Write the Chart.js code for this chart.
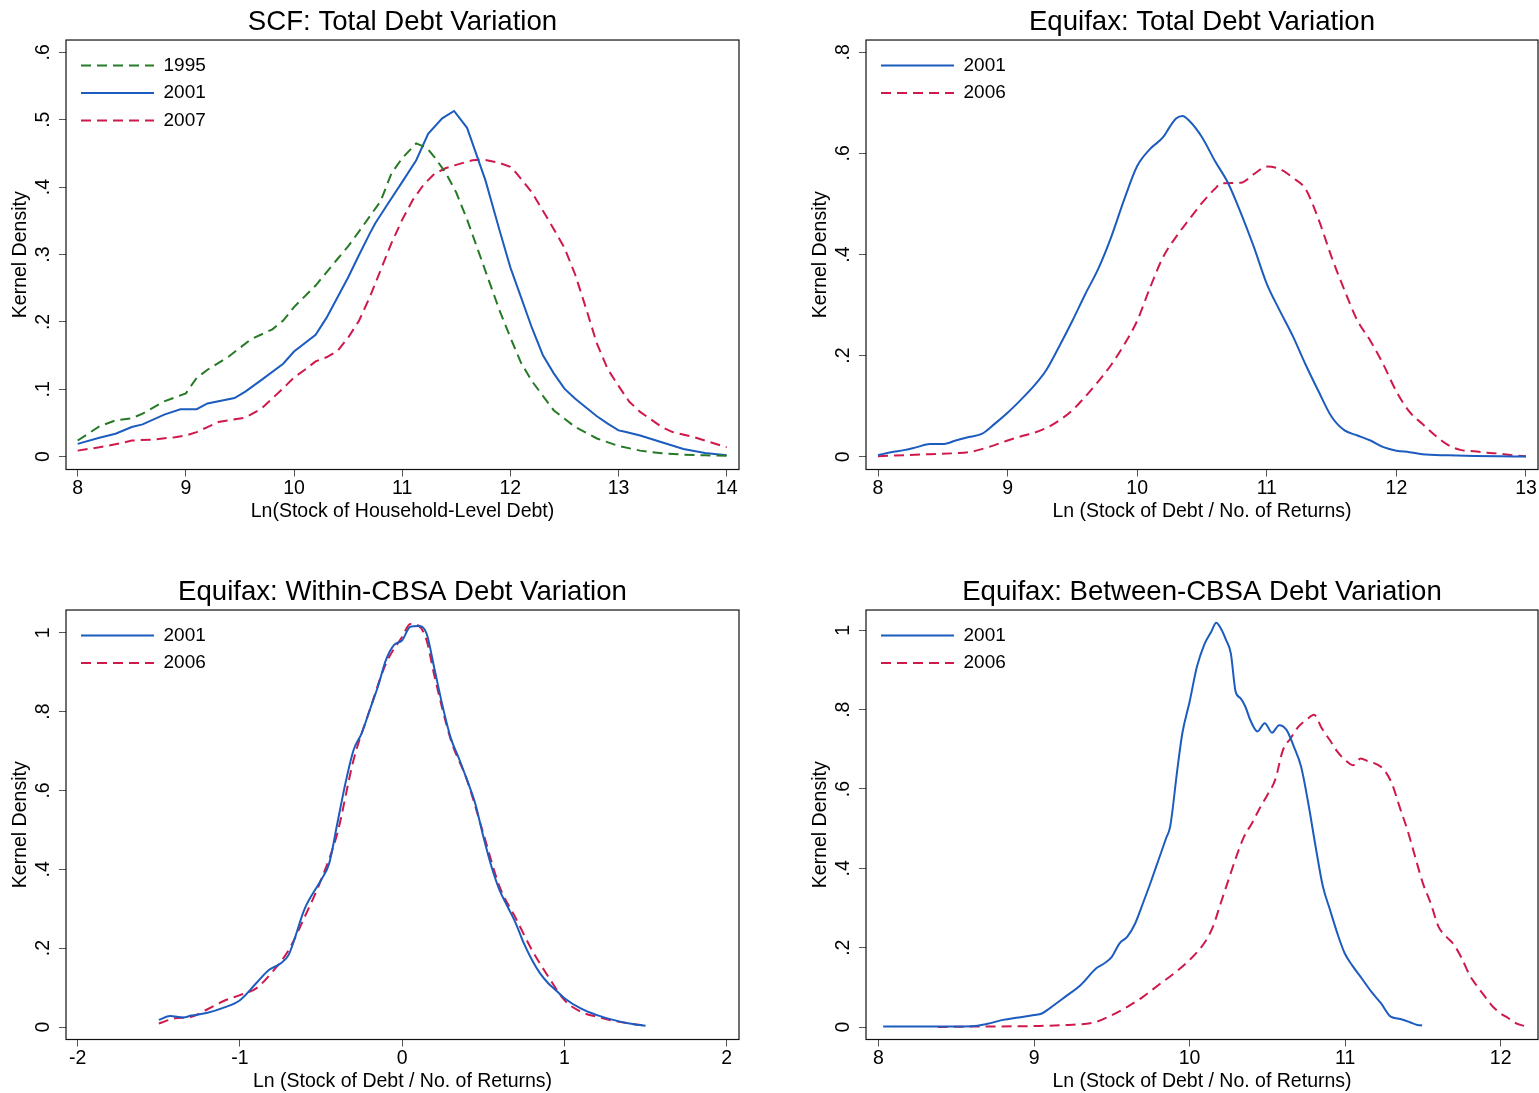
<!DOCTYPE html>
<html>
<head>
<meta charset="utf-8">
<title>Debt Variation</title>
<script src="https://cdn.jsdelivr.net/npm/chart.js@4.4.1/dist/chart.umd.min.js"></script>
<style>
    html, body { margin: 0; padding: 0; background: #fff; overflow: hidden; }
    canvas { position: absolute; }
</style>
</head>
<body>
<canvas id="scf" width="770" height="540" style="left:0;top:0"></canvas>
<canvas id="eqTotal" width="739" height="540" style="left:800px;top:0"></canvas>
<canvas id="eqWithin" width="770" height="540" style="left:0;top:570px"></canvas>
<canvas id="eqBetween" width="739" height="540" style="left:800px;top:570px"></canvas>
<script>
// SCF panel
let scfX1995 = [8, 8.2, 8.35, 8.5, 8.6, 8.8, 9.0, 9.1, 9.2, 9.4, 9.6, 9.8, 9.9, 10.0, 10.2, 10.4, 10.5, 10.6, 10.8, 10.9, 11.0, 11.13, 11.23, 11.3, 11.4, 11.5, 11.6, 11.7, 11.8, 11.9, 12.0, 12.1, 12.2, 12.4, 12.6, 12.8, 13.0, 13.2, 13.4, 13.6, 13.8, 14.0];
let scfY1995 = [0.024, 0.045, 0.054, 0.057, 0.064, 0.082, 0.094, 0.117, 0.129, 0.149, 0.174, 0.189, 0.202, 0.222, 0.254, 0.293, 0.312, 0.334, 0.379, 0.42, 0.443, 0.465, 0.458, 0.444, 0.422, 0.392, 0.352, 0.307, 0.262, 0.217, 0.177, 0.139, 0.112, 0.069, 0.044, 0.027, 0.016, 0.009, 0.005, 0.003, 0.002, 0.0015];
let scfX2001 = [8, 8.2, 8.35, 8.5, 8.6, 8.8, 8.95, 9.1, 9.2, 9.45, 9.55, 9.7, 9.9, 10.0, 10.2, 10.3, 10.4, 10.5, 10.6, 10.7, 10.75, 10.85, 11.01, 11.13, 11.24, 11.37, 11.48, 11.6, 11.77, 11.9, 12.0, 12.1, 12.2, 12.3, 12.4, 12.5, 12.6, 12.7, 12.8, 12.9, 13.0, 13.05, 13.2, 13.4, 13.6, 13.8, 14.0];
let scfY2001 = [0.019, 0.028, 0.034, 0.044, 0.048, 0.0625, 0.0705, 0.0705, 0.079, 0.087, 0.0965, 0.114, 0.138, 0.156, 0.181, 0.206, 0.236, 0.266, 0.299, 0.331, 0.346, 0.371, 0.41, 0.44, 0.479, 0.502, 0.513, 0.488, 0.41, 0.336, 0.281, 0.236, 0.191, 0.151, 0.124, 0.101, 0.086, 0.073, 0.06, 0.049, 0.039, 0.0375, 0.0315, 0.0215, 0.0115, 0.0055, 0.002];
let scfX2007 = [8, 8.2, 8.4, 8.5, 8.7, 8.9, 9.0, 9.1, 9.2, 9.3, 9.4, 9.55, 9.7, 9.8, 9.9, 10.0, 10.1, 10.2, 10.3, 10.4, 10.5, 10.6, 10.7, 10.8, 10.9, 11.0, 11.1, 11.2, 11.3, 11.4, 11.5, 11.65, 11.75, 11.9, 12.0, 12.05, 12.2, 12.35, 12.5, 12.6, 12.7, 12.8, 12.9, 13.0, 13.1, 13.2, 13.4, 13.5, 13.7, 13.8, 14.0];
let scfY2007 = [0.009, 0.014, 0.02, 0.024, 0.0255, 0.029, 0.0315, 0.0365, 0.044, 0.0515, 0.054, 0.058, 0.0715, 0.0865, 0.1015, 0.1175, 0.129, 0.1415, 0.1475, 0.1565, 0.1765, 0.2015, 0.2365, 0.2765, 0.3165, 0.3515, 0.3815, 0.404, 0.42, 0.428, 0.433, 0.44, 0.441, 0.436, 0.43, 0.422, 0.392, 0.352, 0.31, 0.27, 0.22, 0.168, 0.13, 0.105, 0.0815, 0.0665, 0.044, 0.0365, 0.029, 0.024, 0.014];

// Equifax total
let totX2001 = [8.0, 8.1, 8.2, 8.3, 8.4, 8.5, 8.6, 8.7, 8.8, 8.9, 9.0, 9.1, 9.2, 9.3, 9.4, 9.5, 9.6, 9.7, 9.8, 9.9, 10.0, 10.1, 10.2, 10.25, 10.3, 10.35, 10.4, 10.5, 10.6, 10.7, 10.8, 10.9, 11.0, 11.1, 11.2, 11.3, 11.4, 11.5, 11.6, 11.7, 11.8, 11.9, 12.0, 12.1, 12.2, 12.4, 12.6, 12.8, 13.0];
let totY2001 = [0.003, 0.009, 0.013, 0.019, 0.025, 0.025, 0.032, 0.039, 0.045, 0.065, 0.087, 0.112, 0.139, 0.172, 0.219, 0.269, 0.322, 0.372, 0.435, 0.509, 0.575, 0.609, 0.632, 0.652, 0.669, 0.674, 0.665, 0.632, 0.585, 0.542, 0.482, 0.415, 0.342, 0.289, 0.239, 0.182, 0.129, 0.079, 0.052, 0.042, 0.032, 0.019, 0.012, 0.009, 0.005, 0.0027, 0.0013, 0.0007, 0.0005];
let totX2006 = [8.0, 8.2, 8.4, 8.6, 8.7, 8.8, 8.9, 9.0, 9.1, 9.2, 9.3, 9.4, 9.5, 9.6, 9.7, 9.8, 9.9, 10.0, 10.1, 10.2, 10.3, 10.4, 10.5, 10.6, 10.65, 10.8, 10.9, 11.0, 11.1, 11.2, 11.3, 11.4, 11.5, 11.6, 11.7, 11.8, 11.9, 12.0, 12.1, 12.2, 12.3, 12.4, 12.5, 12.6, 12.7, 12.8, 12.9, 13.0];
let totY2006 = [0.001, 0.003, 0.005, 0.007, 0.009, 0.015, 0.023, 0.032, 0.04, 0.047, 0.057, 0.072, 0.092, 0.119, 0.149, 0.182, 0.222, 0.269, 0.335, 0.395, 0.435, 0.469, 0.502, 0.530, 0.541, 0.542, 0.559, 0.574, 0.569, 0.552, 0.529, 0.469, 0.395, 0.329, 0.269, 0.229, 0.182, 0.129, 0.089, 0.065, 0.042, 0.023, 0.013, 0.011, 0.008, 0.006, 0.003, 0.001];

// Equifax within-CBSA
let winX2001 = [-1.5, -1.43, -1.35, -1.3, -1.2, -1.1, -1.0, -0.9, -0.82, -0.75, -0.7, -0.6, -0.5, -0.45, -0.4, -0.35, -0.3, -0.25, -0.2, -0.15, -0.1, -0.05, 0, 0.05, 0.1, 0.15, 0.2, 0.25, 0.3, 0.35, 0.4, 0.45, 0.5, 0.55, 0.6, 0.65, 0.7, 0.75, 0.8, 0.85, 0.9, 0.95, 1.0, 1.1, 1.2, 1.3, 1.4, 1.5];
let winY2001 = [0.018, 0.028, 0.024, 0.029, 0.036, 0.049, 0.068, 0.111, 0.145, 0.161, 0.183, 0.301, 0.373, 0.415, 0.516, 0.618, 0.702, 0.745, 0.804, 0.863, 0.931, 0.969, 0.981, 1.015, 1.017, 0.998, 0.906, 0.812, 0.732, 0.681, 0.626, 0.567, 0.483, 0.407, 0.347, 0.305, 0.263, 0.212, 0.170, 0.136, 0.111, 0.092, 0.073, 0.047, 0.030, 0.018, 0.009, 0.003];
let winX2006 = [-1.5, -1.4, -1.3, -1.2, -1.1, -1.0, -0.9, -0.8, -0.7, -0.6, -0.5, -0.4, -0.3, -0.2, -0.1, 0, 0.05, 0.1, 0.15, 0.2, 0.3, 0.4, 0.5, 0.6, 0.7, 0.8, 0.9, 1.0, 1.1, 1.2, 1.3, 1.4, 1.5];
let winY2006 = [0.009, 0.022, 0.026, 0.045, 0.066, 0.081, 0.098, 0.140, 0.195, 0.280, 0.373, 0.491, 0.677, 0.804, 0.922, 0.99, 1.022, 1.018, 0.981, 0.888, 0.728, 0.626, 0.491, 0.356, 0.276, 0.195, 0.128, 0.068, 0.039, 0.026, 0.016, 0.009, 0.003];

// Equifax between-CBSA
let betX2001 = [8.03, 8.3, 8.6, 8.7, 8.8, 8.9, 9.0, 9.05, 9.1, 9.2, 9.3, 9.4, 9.45, 9.5, 9.55, 9.6, 9.65, 9.7, 9.75, 9.8, 9.85, 9.875, 9.922, 9.953, 10.0, 10.047, 10.093, 10.14, 10.171, 10.2, 10.234, 10.265, 10.296, 10.327, 10.358, 10.39, 10.436, 10.483, 10.53, 10.576, 10.623, 10.67, 10.717, 10.763, 10.81, 10.857, 10.903, 10.95, 10.997, 11.044, 11.106, 11.168, 11.23, 11.293, 11.355, 11.417, 11.464, 11.495];
let betY2001 = [0.001, 0.001, 0.002, 0.008, 0.018, 0.024, 0.030, 0.034, 0.047, 0.076, 0.106, 0.148, 0.160, 0.177, 0.211, 0.228, 0.261, 0.312, 0.365, 0.421, 0.477, 0.505, 0.652, 0.74, 0.82, 0.908, 0.963, 0.997, 1.019, 1.005, 0.976, 0.942, 0.845, 0.829, 0.808, 0.774, 0.745, 0.766, 0.742, 0.761, 0.749, 0.707, 0.656, 0.564, 0.455, 0.354, 0.295, 0.236, 0.186, 0.156, 0.123, 0.089, 0.060, 0.026, 0.020, 0.012, 0.005, 0.004];
let betX2006 = [8.38, 8.6, 9.0, 9.2, 9.4, 9.5, 9.6, 9.7, 9.8, 9.9, 10.0, 10.1, 10.15, 10.2, 10.25, 10.3, 10.35, 10.4, 10.45, 10.5, 10.55, 10.6, 10.65, 10.7, 10.75, 10.8, 10.85, 10.9, 10.95, 11.0, 11.05, 11.1, 11.15, 11.2, 11.25, 11.3, 11.35, 11.4, 11.45, 11.5, 11.55, 11.6, 11.65, 11.7, 11.75, 11.8, 11.85, 11.9, 11.95, 12.0, 12.05, 12.1, 12.15];
let betY2006 = [0, 0.001, 0.0025, 0.005, 0.013, 0.030, 0.051, 0.076, 0.106, 0.135, 0.169, 0.215, 0.253, 0.312, 0.371, 0.429, 0.480, 0.513, 0.551, 0.585, 0.623, 0.698, 0.728, 0.757, 0.774, 0.787, 0.753, 0.724, 0.694, 0.673, 0.66, 0.677, 0.669, 0.663, 0.648, 0.614, 0.555, 0.497, 0.429, 0.362, 0.312, 0.253, 0.228, 0.207, 0.173, 0.131, 0.102, 0.076, 0.051, 0.034, 0.022, 0.009, 0.003];

// tick values
let scfXTicks = [8, 9, 10, 11, 12, 13, 14];
let scfYTicks = [0, 0.1, 0.2, 0.3, 0.4, 0.5, 0.6];
let totXTicks = [8, 9, 10, 11, 12, 13];
let totYTicks = [0, 0.2, 0.4, 0.6, 0.8];
let winXTicks = [-2, -1, 0, 1, 2];
let winYTicks = [0, 0.2, 0.4, 0.6, 0.8, 1];
let betXTicks = [8, 9, 10, 11, 12];
let betYTicks = [0, 0.2, 0.4, 0.6, 0.8, 1];

const GREEN = '#267a26';
const BLUE = '#1c5cbf';
const RED = '#d0194b';
const DASH = [10, 6];

Chart.defaults.font.family = "'Liberation Sans', Arial, Helvetica, sans-serif";
Chart.defaults.color = '#000';

function pts(xs, ys) {
    return xs.map((x, i) => ({ x: x, y: ys[i] }));
}

// Stata style labels: .2 instead of 0.2
function tickLabel(v) {
    if (v === 0) return '0';
    let s = String(Math.round(v * 100) / 100);
    return s.replace(/^0\./, '.').replace(/^-0\./, '-.');
}

// box round the plot region
let framePlugin = {
    id: 'frame',
    afterDatasetsDraw(chart) {
        let a = chart.chartArea;
        let ctx = chart.ctx;
        ctx.save();
        ctx.strokeStyle = '#111';
        ctx.lineWidth = 1.2;
        ctx.strokeRect(a.left, a.top, a.right - a.left, a.bottom - a.top);
        ctx.restore();
    }
};

// the chartArea legend loses its top, put it back inside the frame
let legendInside = {
    id: 'legendInside',
    afterLayout(chart) {
        let a = chart.chartArea;
        chart.legend.left = a.left + 6.5;
        chart.legend.top = a.top + 7.6;
    }
};

function axisGrid() {
    return { drawOnChartArea: false, drawTicks: true, tickLength: 7, color: '#555', lineWidth: 1 };
}

function drawPanel(id, title, xTitle, xMin, xMax, yMin, yMax, xTicks, yTicks, series, rightPad, smooth) {
    new Chart(document.getElementById(id), {
        type: 'line',
        data: {
            datasets: series.map(s => ({
                label: s.label,
                data: pts(s.x, s.y),
                borderColor: s.color,
                backgroundColor: s.color,
                borderWidth: 2,
                borderDash: s.dash,
                pointRadius: 0,
                fill: false,
                tension: 0,
                cubicInterpolationMode: smooth ? 'monotone' : 'default'
            }))
        },
        plugins: [framePlugin, legendInside],
        options: {
            responsive: false,
            animation: false,
            events: [],
            layout: { padding: { left: 0, right: rightPad, top: 0, bottom: 0 } },
            scales: {
                x: {
                    type: 'linear',
                    min: xMin,
                    max: xMax,
                    afterBuildTicks: s => { s.ticks = xTicks.map(v => ({ value: v })); },
                    afterFit: s => { s.height = 70.5; },
                    ticks: { autoSkip: false, maxRotation: 0, padding: 0.8, font: { size: 19.5 }, callback: tickLabel },
                    grid: axisGrid(),
                    border: { display: false },
                    title: { display: true, text: xTitle, font: { size: 19.5 }, padding: { top: 0, bottom: 16.8 } }
                },
                y: {
                    type: 'linear',
                    min: yMin,
                    max: yMax,
                    afterBuildTicks: s => { s.ticks = yTicks.map(v => ({ value: v })); },
                    afterFit: s => { s.width = 66; },
                    ticks: { autoSkip: false, minRotation: 90, maxRotation: 90, crossAlign: 'center', padding: 7.2, font: { size: 19.5 }, callback: tickLabel },
                    grid: axisGrid(),
                    border: { display: false },
                    title: { display: true, text: 'Kernel Density', font: { size: 19.5 }, padding: { top: 8.8, bottom: 0 } }
                }
            },
            plugins: {
                tooltip: { enabled: false },
                title: {
                    display: true,
                    text: title,
                    fullSize: false,
                    font: { size: 27.6, weight: 'normal' },
                    color: '#000',
                    padding: { top: 5.6, bottom: 1.3 }
                },
                legend: {
                    position: 'chartArea',
                    align: 'start',
                    labels: {
                        usePointStyle: true,
                        pointStyleWidth: 73,
                        padding: 8.5,
                        font: { size: 19 },
                        color: '#000',
                        generateLabels: chart => chart.data.datasets.map((d, i) => ({
                            text: d.label,
                            strokeStyle: d.borderColor,
                            fillStyle: d.borderColor,
                            lineWidth: d.borderWidth,
                            lineDash: d.borderDash,
                            pointStyle: 'line',
                            hidden: false,
                            datasetIndex: i
                        }))
                    }
                }
            }
        }
    });
}

drawPanel('scf', 'SCF: Total Debt Variation', 'Ln(Stock of Household-Level Debt)',
    7.892, 14.114, -0.019, 0.6183, scfXTicks, scfYTicks, [
        { label: '1995', x: scfX1995, y: scfY1995, color: GREEN, dash: DASH },
        { label: '2001', x: scfX2001, y: scfY2001, color: BLUE, dash: [] },
        { label: '2007', x: scfX2007, y: scfY2007, color: RED, dash: DASH }
    ], 31, false);

drawPanel('eqTotal', 'Equifax: Total Debt Variation', 'Ln (Stock of Debt / No. of Returns)',
    7.9074, 13.0926, -0.0253, 0.8243, totXTicks, totYTicks, [
        { label: '2001', x: totX2001, y: totY2001, color: BLUE, dash: [] },
        { label: '2006', x: totX2006, y: totY2006, color: RED, dash: DASH }
    ], 1, true);

drawPanel('eqWithin', 'Equifax: Within-CBSA Debt Variation', 'Ln (Stock of Debt / No. of Returns)',
    -2.0721, 2.0758, -0.0317, 1.0576, winXTicks, winYTicks, [
        { label: '2001', x: winX2001, y: winY2001, color: BLUE, dash: [] },
        { label: '2006', x: winX2006, y: winY2006, color: RED, dash: DASH }
    ], 31, true);

drawPanel('eqBetween', 'Equifax: Between-CBSA Debt Variation', 'Ln (Stock of Debt / No. of Returns)',
    7.9196, 12.2398, -0.0315, 1.0512, betXTicks, betYTicks, [
        { label: '2001', x: betX2001, y: betY2001, color: BLUE, dash: [] },
        { label: '2006', x: betX2006, y: betY2006, color: RED, dash: DASH }
    ], 1, true);
</script>
</body>
</html>
